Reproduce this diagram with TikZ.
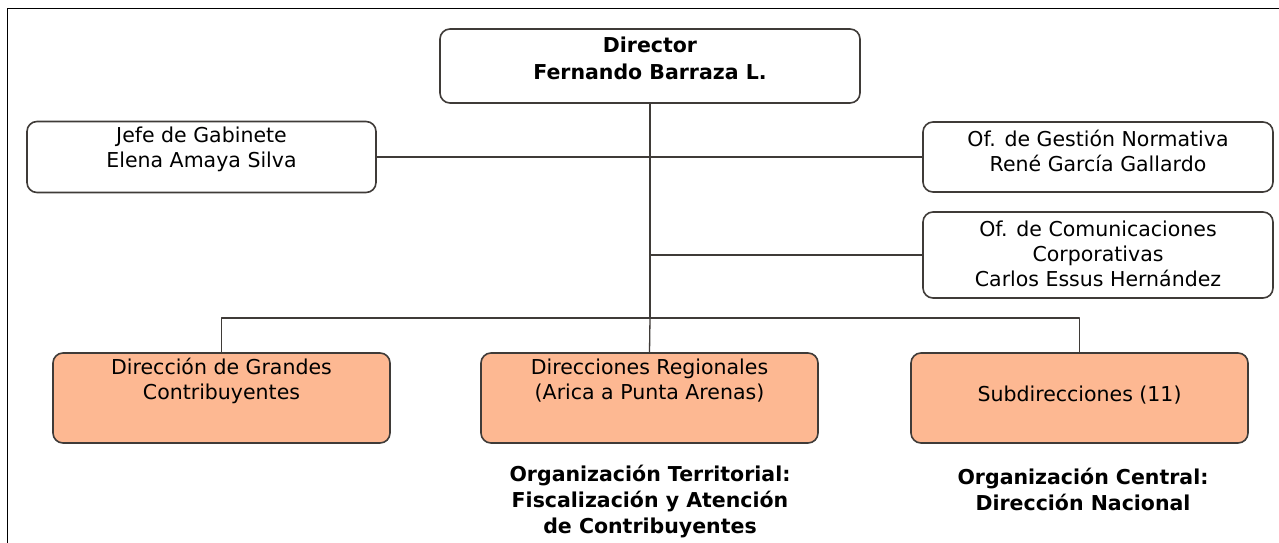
\documentclass[tikz,border=0pt]{standalone}
\usepackage{fontspec}
\setmainfont{DejaVu Sans}
\definecolor{salmon}{HTML}{FDB892}
\definecolor{edge}{HTML}{3F3B38}
\begin{document}
\begin{tikzpicture}[x=1pt,y=-1pt,line join=round,
	box/.style={draw=edge,line width=1.6pt,rounded corners=10pt,inner sep=0pt},
	txt/.style={align=center,inner sep=0pt,font=\fontsize{20.5}{25}\selectfont},
	bold/.style={font=\fontsize{20.5}{26}\selectfont\bfseries},
	link/.style={draw=edge,line width=1.3pt}]
	\useasboundingbox (0,0) rectangle (1279,543);
	\def\xmid{650} \def\ybar{318}
	% marco
	\draw[line width=1pt] (1279,9)--(7,9)--(7,543);
	% recuadros
	\node[box,minimum width=420,minimum height=74] (dir) at (650,66) {};
	\node[box,minimum width=349,minimum height=71] (jefe) at (201.5,157) {};
	\node[box,minimum width=350,minimum height=70] (gest) at (1098,157) {};
	\node[box,minimum width=350,minimum height=86] (com) at (1098,255) {};
	\foreach \n/\x in {gran/221.5,reg/649.5,sub/1079.5}
	\node[box,fill=salmon,minimum width=337,minimum height=90] (\n) at (\x,398) {};
	% textos
	\node[txt,bold,font=\fontsize{20.5}{27}\selectfont\bfseries] (dirtxt) at (650,58.5) {Director\\Fernando Barraza L.};
	\node[txt] (jefetxt) at (201.5,149.5) {Jefe de Gabinete\\Elena Amaya Silva};
	\node[txt] (gesttxt) at (1098,150.5) {Of. de Gesti\'on Normativa\\Ren\'e Garc\'ia Gallardo};
	\node[txt] (comtxt) at (1098,253.5) {Of. de Comunicaciones\\Corporativas\\Carlos Essus Hern\'andez};
	\node[txt] (grantxt) at (221.5,380.5) {Direcci\'on de Grandes\\Contribuyentes};
	\node[txt] (regtxt) at (649.5,380.5) {Direcciones Regionales\\(Arica a Punta Arenas)};
	\node[txt] (subtxt) at (1079.5,395) {Subdirecciones (11)};
	\node[txt,bold] (terr) at (650,502) {Organizaci\'on Territorial:\\Fiscalizaci\'on y Atenci\'on\\de Contribuyentes};
	\node[txt,bold] (cent) at (1083,489) {Organizaci\'on Central:\\Direcci\'on Nacional};
	% conectores
	\coordinate (top) at (\xmid,\ybar);
	\coordinate (mid) at (\xmid,255);
	\draw[link] (dir.south) -- (top);
	\draw[link] (jefe.east) -- (gest.west);
	\draw[link] (mid) -- (com.west);
	\draw[link] (gran.north) |- (top) -| (sub.north);
	\draw[link] (top) -- (reg.north);
\end{tikzpicture}
\end{document}
